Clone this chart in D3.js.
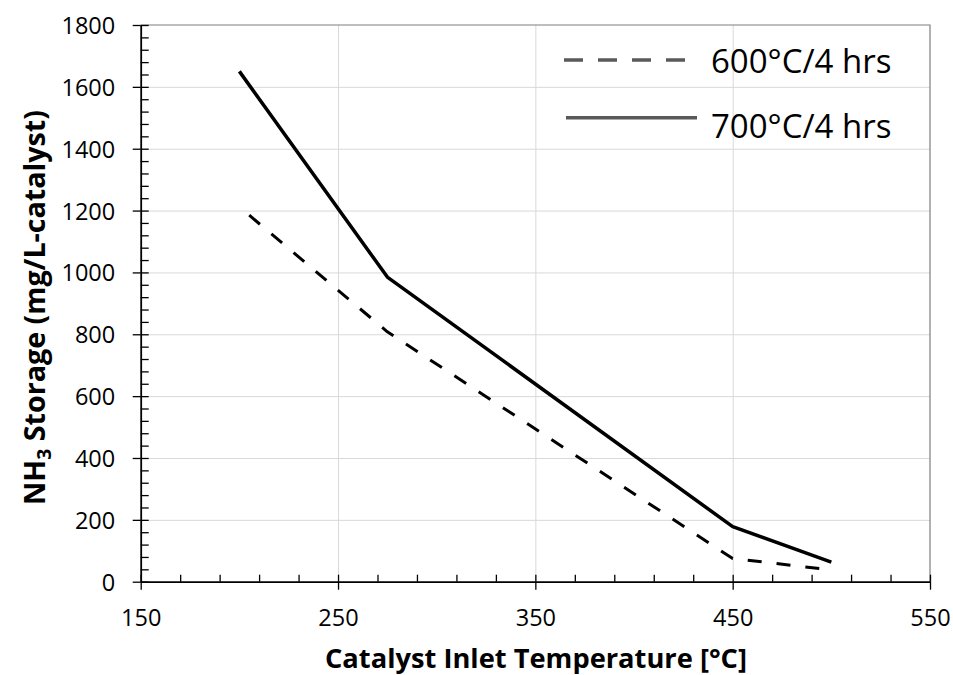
<!DOCTYPE html>
<html>
<head>
<meta charset="utf-8">
<script src="https://cdn.jsdelivr.net/npm/d3@7"></script>
<style>
  html, body { margin: 0; padding: 0; background: #fff; }
  svg { display: block; font-family: "Open Sans", sans-serif; }
</style>
</head>
<body>
<svg id="chart" width="953" height="675"></svg>
<script>
// ---- data ----
const xTickValues = [150, 250, 350, 450, 550];
const yTickValues = [0, 200, 400, 600, 800, 1000, 1200, 1400, 1600, 1800];
const seriesNames = ["600°C/4 hrs", "700°C/4 hrs"];
const temps600 = [205, 275, 450, 500];
const storage600 = [1185, 808, 75, 38];
const temps700 = [200, 275, 450, 500];
const storage700 = [1650, 985, 178, 63];
const xTitle = "Catalyst Inlet Temperature [°C]";

// ---- layout ----
const L = 140.7, R = 930, T = 25, B = 581.7;
const svg = d3.select("#chart");
const x = d3.scaleLinear().domain([150, 550]).range([L, R]);
const y = d3.scaleLinear().domain([0, 1800]).range([B, T]);

const xMinor = d3.range(150, 551, 20);
const yMinor = d3.range(0, 1801, 40);

// gridlines
svg.append("g").attr("transform", `translate(0,${B})`)
  .call(d3.axisBottom(x).tickValues(xTickValues.slice(1, -1)).tickSize(-(B - T)).tickFormat(""))
  .call(g => g.select(".domain").remove())
  .call(g => g.selectAll("line").attr("stroke", "#d9d9d9").attr("stroke-width", 1));
svg.append("g").attr("transform", `translate(${L},0)`)
  .call(d3.axisLeft(y).tickValues(yTickValues.slice(1, -1)).tickSize(-(R - L)).tickFormat(""))
  .call(g => g.select(".domain").remove())
  .call(g => g.selectAll("line").attr("stroke", "#d9d9d9").attr("stroke-width", 1));

// top/right border
svg.append("path")
  .attr("d", `M${L},${T}H${R}V${B}`)
  .attr("fill", "none").attr("stroke", "#7f7f7f").attr("stroke-width", 1.2);

// series lines
const line = d3.line().x(d => x(d[0])).y(d => y(d[1]));
svg.append("path")
  .datum(d3.zip(temps600, storage600))
  .attr("d", line).attr("fill", "none").attr("stroke", "#000")
  .attr("stroke-width", 3).attr("stroke-dasharray", "14,15").attr("stroke-linejoin", "round");
svg.append("path")
  .datum(d3.zip(temps700, storage700))
  .attr("d", line).attr("fill", "none").attr("stroke", "#000")
  .attr("stroke-width", 3.5).attr("stroke-linejoin", "round");

// x axis
const xAxisG = svg.append("g").attr("transform", `translate(0,${B})`);
xAxisG.append("g")
  .call(d3.axisBottom(x).tickValues(xMinor).tickSize(-7).tickFormat(""))
  .call(g => g.select(".domain").remove())
  .call(g => g.selectAll("line").attr("stroke", "#000").attr("stroke-width", 1.3));
xAxisG.append("g")
  .call(d3.axisBottom(x).tickValues(xTickValues).tickSize(8).tickSizeOuter(0).tickFormat(d3.format("d")))
  .call(g => g.select(".domain").attr("stroke", "#000").attr("stroke-width", 1.8))
  .call(g => g.selectAll("line").attr("stroke", "#000").attr("stroke-width", 1.3))
  .call(g => g.selectAll("text").attr("y", 28).attr("dy", "0.71em")
    .attr("font-size", 23.5).attr("fill", "#000").attr("font-family", "Open Sans"));

// y axis
const yAxisG = svg.append("g").attr("transform", `translate(${L},0)`);
yAxisG.append("g")
  .call(d3.axisLeft(y).tickValues(yMinor).tickSize(-8).tickFormat(""))
  .call(g => g.select(".domain").remove())
  .call(g => g.selectAll("line").attr("stroke", "#000").attr("stroke-width", 1.3));
yAxisG.append("g")
  .call(d3.axisLeft(y).tickValues(yTickValues).tickSize(8).tickSizeOuter(0).tickFormat(d3.format("d")))
  .call(g => g.select(".domain").attr("stroke", "#000").attr("stroke-width", 1.8))
  .call(g => g.selectAll("line").attr("stroke", "#000").attr("stroke-width", 1.3))
  .call(g => g.selectAll("text").attr("x", -25.5).attr("dy", "0.36em")
    .attr("font-size", 23.5).attr("fill", "#000").attr("font-family", "Open Sans"));

// axis titles
svg.append("text")
  .attr("x", 536).attr("y", 667.5)
  .attr("text-anchor", "middle")
  .attr("font-weight", "bold").attr("font-size", 27)
  .attr("textLength", 422).attr("lengthAdjust", "spacingAndGlyphs")
  .text(xTitle);

const yt = svg.append("text")
  .attr("transform", "translate(45,307.5) rotate(-90)")
  .attr("text-anchor", "middle")
  .attr("font-weight", "bold").attr("font-size", 28)
  .attr("textLength", 395).attr("lengthAdjust", "spacingAndGlyphs");
yt.append("tspan").text("NH");
yt.append("tspan").attr("font-size", 19).attr("dy", 6).text("3");
yt.append("tspan").attr("dy", -6).text(" Storage (mg/L-catalyst)");

// legend
const legend = svg.append("g");
legend.append("line")
  .attr("x1", 564).attr("x2", 688).attr("y1", 60).attr("y2", 60)
  .attr("stroke", "#595959").attr("stroke-width", 3.5).attr("stroke-dasharray", "19,15");
legend.append("line")
  .attr("x1", 566).attr("x2", 697).attr("y1", 117.7).attr("y2", 117.7)
  .attr("stroke", "#595959").attr("stroke-width", 3.5);
legend.append("text").attr("x", 711).attr("y", 72.7)
  .attr("font-size", 33).attr("fill", "#000").text(seriesNames[0]);
legend.append("text").attr("x", 711).attr("y", 138)
  .attr("font-size", 33).attr("fill", "#000").text(seriesNames[1]);
</script>
</body>
</html>
